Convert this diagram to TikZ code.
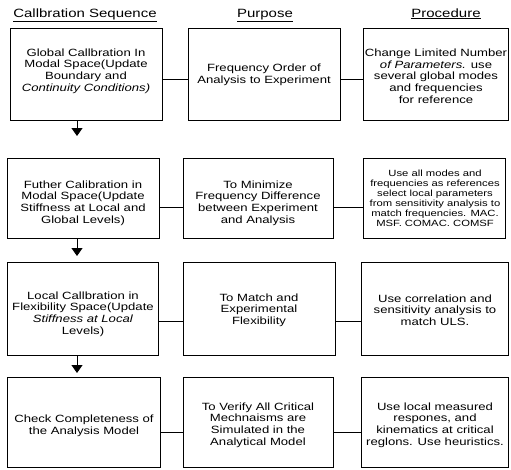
\documentclass[tikz,border=0pt]{standalone}
\usepackage{fontspec}
\setmainfont{Liberation Sans}[FakeStretch=1.25]
\usetikzlibrary{arrows.meta}
\begin{document}
\begin{tikzpicture}[x=1pt,y=-1pt,
  boxtxt/.style={align=center,font=\fontsize{10.5}{11.7}\selectfont,inner sep=0pt},
  smalltxt/.style={align=center,font=\fontsize{9}{10}\selectfont,inner sep=0pt},
  hdr/.style={font=\fontsize{12}{14}\selectfont,inner sep=0pt,anchor=base},
  frame/.style={draw,line width=0.9pt},
  link/.style={line width=0.7pt},
  flow/.style={line width=0.9pt,-{Triangle[width=11pt,length=8pt]}}]
\useasboundingbox (0,0) rectangle (511,469);
% headers
\node[hdr] (h1) at (85,17) {\underline{Callbration Sequence}};
\node[hdr] (h2) at (265,17) {\underline{Purpose}};
\node[hdr] (h3) at (446,17) {\underline{Procedure}};
% boxes
\foreach \n/\xa/\ya/\xb/\yb in {L1/10/28/162/120, M1/188/28/340/120, R1/363/28/508/120,
  L2/7/158/159/238, M2/183/158/333/238, R2/363/158/505/238,
  L3/7/262/158/355, M3/183/262/335/355, R3/361/262/508/355,
  L4/7/377/160/467, M4/183/377/333/467, R4/361/377/508/467}{
  \draw[frame] (\xa,\ya) rectangle (\xb,\yb);
  \coordinate (\n-nw) at (\xa,\ya);
  \coordinate (\n-se) at (\xb,\yb);
}
% texts
\node[boxtxt] (t11) at (86,71) {Global Callbration In\\Modal Space(Update\\Boundary and\\\textit{Continuity Conditions)}};
\node[boxtxt] (t12) at (264,75) {Frequency Order of\\Analysis to Experiment};
\node[boxtxt] (t13) at (436,76) {Change Limited Number\\\textit{of Parameters.} use\\several global modes\\and frequencies\\for reference};
\node[boxtxt] (t21) at (83,203) {Futher Calibration in\\Modal Space(Update\\Stiffness at Local and\\Global Levels)};
\node[boxtxt] (t22) at (258,203) {To Minimize\\Frequency Difference\\between Experiment\\and Analysis};
\node[smalltxt] (t23) at (435,198) {Use all modes and\\frequencies as references\\select local parameters\\from sensitivity analysis to\\match frequencies. MAC.\\MSF. COMAC. COMSF};
\node[boxtxt] (t31) at (83,314) {Local Callbration in\\Flexibility Space(Update\\\textit{Stiffness at Local}\\Levels)};
\node[boxtxt] (t32) at (259,310) {To Match and\\Experimental\\Flexibility};
\node[boxtxt] (t33) at (435,310) {Use correlation and\\sensitivity analysis to\\match ULS.};
\node[boxtxt] (t41) at (84,426) {Check Completeness of\\the Analysis Model};
\node[boxtxt] (t42) at (258,425) {To Verify All Critical\\Mechnaisms are\\Simulated in the\\Analytical Model};
\node[boxtxt] (t43) at (435,425) {Use local measured\\respones, and\\kinematics at critical\\reglons. Use heuristics.};
% horizontal connectors
\draw[link] (L1-se |- 0,79) -- (M1-nw |- 0,79);
\draw[link] (M1-se |- 0,79) -- (R1-nw |- 0,79);
\draw[link] (L2-se |- 0,207) -- (M2-nw |- 0,207);
\draw[link] (M2-se |- 0,207) -- (R2-nw |- 0,207);
\draw[link] (L3-se |- 0,321) -- (M3-nw |- 0,321);
\draw[link] (M3-se |- 0,321) -- (R3-nw |- 0,321);
\draw[link] (L4-se |- 0,432) -- (M4-nw |- 0,432);
\draw[link] (M4-se |- 0,432) -- (R4-nw |- 0,432);
% vertical flow arrows
\coordinate (a1s) at (77,120); \coordinate (a1e) at (77,136);
\coordinate (a2s) at (77,238); \coordinate (a2e) at (77,256);
\coordinate (a3s) at (77,355); \coordinate (a3e) at (77,373);
\draw[flow] (a1s) -- (a1e);
\draw[flow] (a2s) -- (a2e);
\draw[flow] (a3s) -- (a3e);
\end{tikzpicture}
\end{document}
